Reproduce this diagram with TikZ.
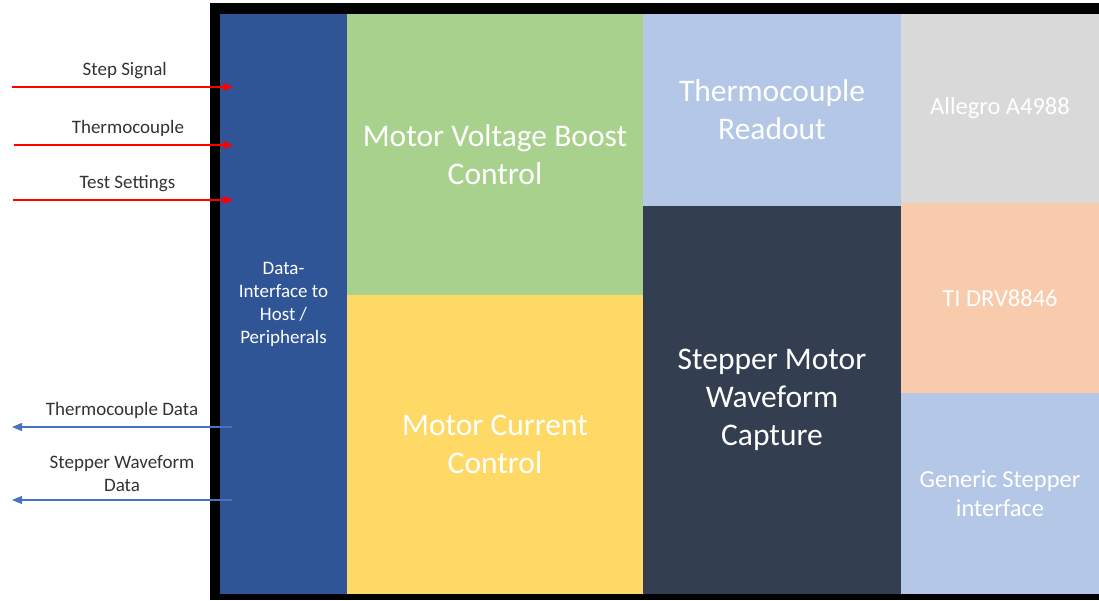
\documentclass[tikz,border=0pt]{standalone}
\usepackage{fontspec}
\setmainfont{Carlito}
\usepackage{xcolor}
\definecolor{hostblue}{HTML}{2F5597}
\definecolor{boostgreen}{HTML}{A9D18E}
\definecolor{curyellow}{HTML}{FFD966}
\definecolor{paleblue}{HTML}{B4C7E7}
\definecolor{slate}{HTML}{333F50}
\definecolor{greybox}{HTML}{D9D9D9}
\definecolor{peach}{HTML}{F8CBAD}
\definecolor{inred}{HTML}{FF0000}
\definecolor{outblue}{HTML}{4472C4}
\usepackage{tikz}
\usetikzlibrary{positioning,arrows.meta}

\begin{document}
\begin{tikzpicture}[x=1pt, y=-1pt,
    every node/.style={font=\fontsize{19}{23}\selectfont, text=black!80},
    blk/.style={anchor=north west, inner sep=0pt, outer sep=0pt,
                align=center, text=white,
                font=\fontsize{31.5}{38}\selectfont},
    drv/.style={blk, font=\fontsize{24.5}{29}\selectfont},
    sig/.style={anchor=south, inner sep=0pt, yshift=8pt, align=center},
    inarr/.style={draw=inred, line width=1.1pt,
                  -{Triangle[length=10pt, width=8pt]}},
    outarr/.style={draw=outblue, line width=1.1pt,
                   -{Triangle[length=10pt, width=8pt]}}]
  \useasboundingbox (0,0) rectangle (1099,600);
  % frame
  \node[anchor=north west, fill=black, inner sep=0pt,
        minimum width=889pt, minimum height=597pt] (frame) at (210,3) {};
  % blocks
  \node[blk, fill=hostblue, minimum width=127pt, minimum height=580pt,
        font=\fontsize{19}{23}\selectfont] (host) at (220,14)
        {Data-\\Interface to\\Host /\\Peripherals};
  \node[blk, fill=boostgreen, minimum width=296pt, minimum height=281pt]
        (boost) at (347,14) {Motor Voltage Boost\\Control};
  \node[blk, fill=curyellow, minimum width=296pt, minimum height=299pt]
        (current) at (347,295) {Motor Current\\Control};
  \node[blk, fill=paleblue, minimum width=258pt, minimum height=192pt]
        (readout) at (643,14) {Thermocouple\\Readout};
  \node[blk, fill=slate, minimum width=258pt, minimum height=388pt]
        (capture) at (643,206) {Stepper Motor\\Waveform\\Capture};
  \node[drv, fill=greybox, minimum width=198pt, minimum height=189pt]
        (allegro) at (901,14) {Allegro A4988};
  \node[drv, fill=peach, minimum width=198pt, minimum height=190pt]
        (ti) at (901,203) {TI DRV8846};
  \node[drv, fill=paleblue, minimum width=198pt, minimum height=201pt]
        (generic) at (901,393) {Generic Stepper\\interface};
  % signals in
  \coordinate (stepIn) at (12,87);
  \coordinate (tcIn) at (14,145);
  \coordinate (setIn) at (13,200);
  \draw[inarr] (stepIn) -- ([xshift=13pt]host.west |- stepIn)
    node[sig, pos=0.51] {Step Signal};
  \draw[inarr] (tcIn) -- ([xshift=13pt]host.west |- tcIn)
    node[sig, pos=0.52] {Thermocouple};
  \draw[inarr] (setIn) -- ([xshift=13pt]host.west |- setIn)
    node[sig, pos=0.52] {Test Settings};
  % data out
  \coordinate (tcOut) at (12,427);
  \coordinate (waveOut) at (12,500);
  \draw[outarr] ([xshift=12pt]host.west |- tcOut) -- (tcOut)
    node[sig, pos=0.5] {Thermocouple Data};
  \draw[outarr] ([xshift=12pt]host.west |- waveOut) -- (waveOut)
    node[sig, pos=0.5] {Stepper Waveform\\Data};
\end{tikzpicture}
\end{document}
